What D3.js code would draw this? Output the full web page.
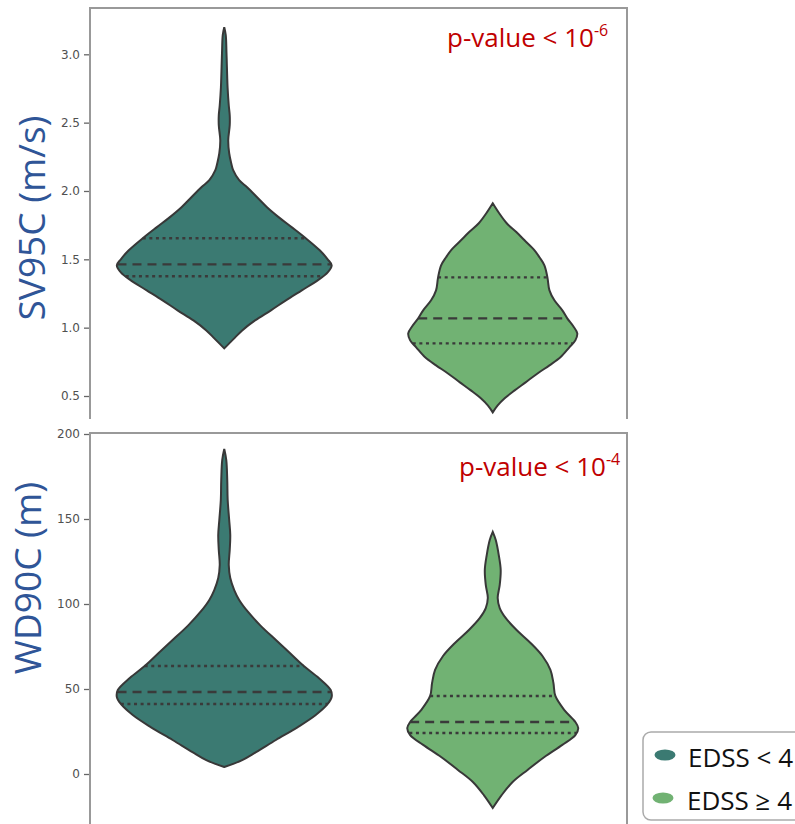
<!DOCTYPE html>
<html>
<head>
<meta charset="utf-8">
<script src="https://cdn.jsdelivr.net/npm/d3@7"></script>
<style>
  body { margin: 0; background: #fff; }
  svg { display: block; }
</style>
</head>
<body>
<svg id="chart"></svg>
<script>
// groups (legend) and their colours
const groups = ["EDSS < 4", "EDSS \u2265 4"];
const colors = ["#3b7a72", "#71b273"];

// y tick values of the two panels
const sv95cTicks = [0.5, 1.0, 1.5, 2.0, 2.5, 3.0];
const wd90cTicks = [0, 50, 100, 150, 200];

// violin outlines: [value, relative half width]
const sv95cLow = [[3.198,0],[3.140,0.014],[3.008,0.021],[2.759,0.031],[2.627,0.042],[2.554,0.051],[2.481,0.051],[2.371,0.037],[2.276,0.046],[2.203,0.065],[2.152,0.083],[2.079,0.139],[2.027,0.213],[1.954,0.306],[1.881,0.398],[1.807,0.509],[1.734,0.630],[1.654,0.759],[1.566,0.889],[1.500,0.963],[1.456,1.0],[1.405,0.963],[1.346,0.870],[1.273,0.722],[1.200,0.574],[1.127,0.435],[1.053,0.287],[0.980,0.167],[0.929,0.102],[0.885,0.046],[0.848,0]];
const sv95cHigh = [[1.910,0],[1.837,0.060],[1.764,0.130],[1.698,0.222],[1.639,0.296],[1.566,0.389],[1.515,0.435],[1.456,0.481],[1.368,0.509],[1.273,0.528],[1.200,0.574],[1.127,0.648],[1.068,0.694],[1.010,0.750],[0.958,0.787],[0.907,0.769],[0.856,0.713],[0.783,0.630],[0.724,0.528],[0.665,0.417],[0.600,0.306],[0.541,0.204],[0.483,0.111],[0.431,0.046],[0.380,0]];
const wd90cLow = [[191.2,0],[184.7,0.019],[172.9,0.028],[161.2,0.032],[149.4,0.046],[140.6,0.056],[131.8,0.051],[122.9,0.042],[115.3,0.056],[108.2,0.093],[102.4,0.139],[95.3,0.222],[87.6,0.333],[78.8,0.481],[71.2,0.611],[63.5,0.741],[56.5,0.880],[49.4,0.991],[45.3,1.0],[41.2,0.963],[34.7,0.852],[27.6,0.685],[20.0,0.481],[12.9,0.296],[8.2,0.167],[4.1,0]];
const wd90cHigh = [[142.4,0],[137.6,0.028],[128.8,0.056],[120.0,0.074],[111.2,0.065],[103.5,0.046],[97.6,0.065],[91.8,0.120],[84.7,0.222],[77.1,0.352],[69.4,0.463],[61.2,0.537],[53.5,0.565],[45.9,0.583],[37.6,0.667],[30.6,0.769],[27.1,0.796],[22.9,0.769],[17.1,0.648],[10.0,0.481],[2.4,0.324],[-4.7,0.185],[-12.4,0.083],[-20.0,0]];

// quartiles [q1, median, q3]
const sv95cQuartiles = [[1.376, 1.463, 1.654], [0.885, 1.068, 1.368]];
const wd90cQuartiles = [[41.2, 48.2, 63.5], [24.1, 30.6, 45.9]];

const W = 795, H = 824;
const svg = d3.select("#chart").attr("width", W).attr("height", H);

const left = 90, right = 627;
const x = d3.scaleLinear().domain([-0.5, 1.5]).range([left, right]);
const halfW = d3.scaleLinear().domain([0, 1]).range([0, 0.4 * (x(1) - x(0))]);

const panels = [
  {
    top: 8, bottom: 419,
    y: d3.scaleLinear().domain([0.5, 3.0]).range([396, 54.3]),
    ticks: sv95cTicks, fmt: d3.format(".1f"),
    profiles: [sv95cLow, sv95cHigh], quart: sv95cQuartiles,
    label: "SV95C (m/s)", labelX: 45, labelY: 218,
    p: "-6", pX: 447, pY: 47
  },
  {
    top: 433, bottom: H,
    y: d3.scaleLinear().domain([0, 200]).range([774, 434]),
    ticks: wd90cTicks, fmt: d3.format("d"),
    profiles: [wd90cLow, wd90cHigh], quart: wd90cQuartiles,
    label: "WD90C (m)", labelX: 41, labelY: 578,
    p: "-4", pX: 459, pY: 476
  }
];

panels.forEach((pn, pi) => {
  const g = svg.append("g");
  const y = pn.y;

  // clip to the panel
  g.append("clipPath").attr("id", "clip" + pi)
    .append("rect").attr("x", left).attr("y", pn.top)
    .attr("width", right - left).attr("height", pn.bottom - pn.top);

  const plot = g.append("g").attr("clip-path", `url(#clip${pi})`);

  pn.profiles.forEach((prof, i) => {
    const cx = x(i);
    const area = d3.area()
      .curve(d3.curveCatmullRom)
      .y(d => y(d[0]))
      .x0(d => cx - halfW(d[1]))
      .x1(d => cx + halfW(d[1]));

    // width of the violin at a value, for the quartile lines
    const widthAt = d3.scaleLinear()
      .domain(prof.map(d => d[0]))
      .range(prof.map(d => d[1]));

    plot.append("path")
      .datum(prof)
      .attr("d", area)
      .attr("fill", colors[i])
      .attr("stroke", "none");

    pn.quart[i].forEach((q, k) => {
      const w = halfW(widthAt(q));
      plot.append("line")
        .attr("x1", cx - w).attr("x2", cx + w)
        .attr("y1", y(q)).attr("y2", y(q))
        .attr("stroke", "#3a3a3a")
        .attr("stroke-width", 2.4)
        .attr("stroke-dasharray", k === 1 ? "9,6" : "3,3.6");
    });

    plot.append("path")
      .datum(prof)
      .attr("d", area)
      .attr("fill", "none")
      .attr("stroke", "#383838")
      .attr("stroke-width", 2);
  });

  // y axis ticks
  const axis = g.append("g")
    .attr("transform", `translate(${left},0)`)
    .call(d3.axisLeft(y).tickValues(pn.ticks).tickFormat(pn.fmt).tickSize(6).tickPadding(4));
  axis.select(".domain").remove();
  axis.selectAll(".tick line").attr("stroke", "#666").attr("stroke-width", 1.3);
  axis.selectAll(".tick text")
    .attr("fill", "#505050")
    .style("font-family", "DejaVu Sans, sans-serif")
    .style("font-size", "12px");

  // spines
  const spine = "#999";
  g.append("line").attr("x1", left).attr("x2", left).attr("y1", pn.top).attr("y2", pn.bottom)
    .attr("stroke", spine).attr("stroke-width", 2);
  g.append("line").attr("x1", right).attr("x2", right).attr("y1", pn.top).attr("y2", pn.bottom)
    .attr("stroke", spine).attr("stroke-width", 2);
  g.append("line").attr("x1", left - 1).attr("x2", right + 1).attr("y1", pn.top).attr("y2", pn.top)
    .attr("stroke", spine).attr("stroke-width", 2);

  // y label
  g.append("text")
    .attr("transform", `translate(${pn.labelX},${pn.labelY}) rotate(-90)`)
    .attr("text-anchor", "middle")
    .attr("fill", "#2f5597")
    .style("font-family", "Open Sans, sans-serif")
    .style("font-size", "37px")
    .text(pn.label);

  // p-value
  const pt = g.append("text")
    .attr("x", pn.pX).attr("y", pn.pY)
    .attr("fill", "#c00000")
    .style("font-family", "Open Sans, sans-serif")
    .style("font-size", "26px");
  pt.append("tspan").text("p-value < 10");
  pt.append("tspan").attr("dy", -11).style("font-size", "16px").text(pn.p);
});

// legend
const leg = svg.append("g");
leg.append("rect")
  .attr("x", 643).attr("y", 732).attr("width", 170).attr("height", 88)
  .attr("rx", 8).attr("fill", "#fff").attr("stroke", "#aaa").attr("stroke-width", 1.5);
groups.forEach((name, i) => {
  const yy = 755 + i * 43;
  leg.append("ellipse")
    .attr("cx", 665 - i * 2).attr("cy", yy).attr("rx", 10.5).attr("ry", 5.5)
    .attr("fill", colors[i]);
  leg.append("text")
    .attr("x", 688 - i).attr("y", yy + 12)
    .attr("fill", "#111")
    .style("font-family", "Open Sans, sans-serif")
    .style("font-size", "26px")
    .text(name);
});
</script>
</body>
</html>
